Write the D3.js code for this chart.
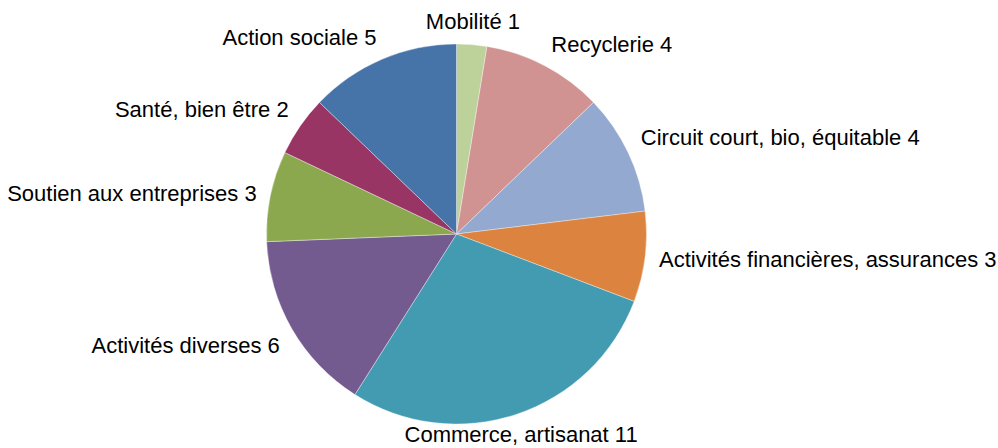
<html>
<head>
<meta charset="utf-8">
<style>
  body { margin: 0; background: #fff; }
  text { font-family: "Liberation Sans", Arial, sans-serif; font-size: 22px; fill: #000; }
</style>
</head>
<body>
<div id="chart"></div>
<script src="https://d3js.org/d3.v7.min.js"></script>
<script>
  // data, clockwise from 12 o'clock
  var categories = ["Mobilité", "Recyclerie", "Circuit court, bio, équitable",
    "Activités financières, assurances", "Commerce, artisanat", "Activités diverses",
    "Soutien aux entreprises", "Santé, bien être", "Action sociale"];
  var values = [1, 4, 4, 3, 11, 6, 3, 2, 5];
  var colors = ["#bdd19b", "#d09391", "#94a9d0", "#dc843f", "#439bb1",
    "#745b8f", "#8ca84f", "#983565", "#4673a8"];

  var width = 998, height = 448;
  var cx = 456.5, cy = 234, radius = 190;

  var svg = d3.select("#chart")
    .append("svg")
    .attr("width", width)
    .attr("height", height)
    .append("g")
    .attr("transform", "translate(" + cx + "," + cy + ")");

  var data = categories.map(function (c, i) { return { name: c, value: values[i], color: colors[i] }; });

  var pie = d3.pie().sort(null).value(function (d) { return d.value; });
  var arc = d3.arc().innerRadius(0).outerRadius(radius);
  var arcs = pie(data);

  svg.selectAll("path")
    .data(arcs)
    .enter()
    .append("path")
    .attr("d", arc)
    .attr("fill", function (d) { return d.data.color; })
    .attr("stroke", "#ffffff")
    .attr("stroke-opacity", 0.6)
    .attr("stroke-width", 0.6);

  // labels outside the pie: the box corner nearest the pie sits on a circle
  var labelR = 204;
  function mid(d) { return (d.startAngle + d.endAngle) / 2; }
  function clamp(v) { return Math.max(0, Math.min(1, v)); }

  svg.selectAll("text")
    .data(arcs)
    .enter()
    .append("text")
    .attr("x", function (d) { return Math.sin(mid(d)) * labelR; })
    .attr("y", function (d) {
      var c = Math.cos(mid(d));
      var py = -c * labelR;
      var t = clamp((Math.abs(c) - 0.25) / 0.15);
      // baseline: centred = py + 8, above = py - 1.5, below = py + 17
      var y = c > 0 ? py + 8 - t * 9.5 : py + 8 + t * 9;
      // keep the descenders inside the picture
      return Math.min(y, height - cy - 6);
    })
    .attr("text-anchor", function (d) {
      var s = Math.sin(mid(d));
      if (Math.abs(s) < 0.35) return "middle";
      return s > 0 ? "start" : "end";
    })
    .text(function (d) { return d.data.name + " " + d.data.value; });
</script>
</body>
</html>
